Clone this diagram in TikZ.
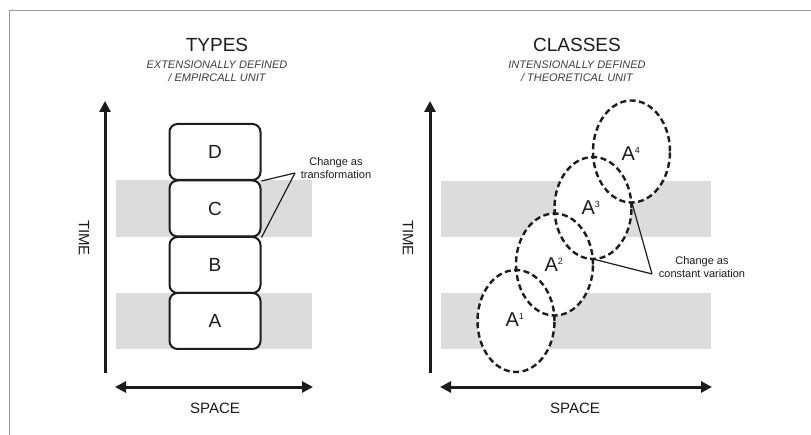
\documentclass[tikz,border=0pt]{standalone}
\usepackage{fontspec}
\setmainfont{Liberation Sans}
\usetikzlibrary{arrows.meta,shapes.geometric}

\definecolor{ink}{HTML}{1C1C1C}
\definecolor{band}{HTML}{DCDCDC}
\definecolor{frame}{HTML}{9A9A9A}

\tikzset{
  title/.style={text=ink, font=\fontsize{19}{21}\selectfont, inner sep=0pt},
  subtitle/.style={text=ink!85, font=\fontsize{11}{13}\itshape, align=center, inner sep=0pt},
  axis/.style={line width=3pt, draw=ink, -{Triangle[length=11pt,width=11pt]}},
  axisboth/.style={line width=3pt, draw=ink, {Triangle[length=11pt,width=11pt]}-{Triangle[length=11pt,width=11pt]}},
  axislabel/.style={text=ink, font=\fontsize{15}{17}\selectfont, inner sep=0pt},
  bandbox/.style={fill=band, draw=none},
  typebox/.style={draw=ink, line width=2pt, fill=white, rounded corners=8pt,
    minimum width=91pt, minimum height=56pt, inner sep=0pt,
    text=ink, font=\fontsize{19}{21}\selectfont},
  classfill/.style={ellipse, fill=white, draw=none, minimum width=77pt, minimum height=102pt, inner sep=0pt},
  classline/.style={ellipse, draw=ink, line width=2.4pt, dash pattern=on 6pt off 3.5pt,
    minimum width=77pt, minimum height=102pt, inner sep=0pt},
  classlabel/.style={text=ink, font=\fontsize{20}{22}\selectfont, inner sep=0pt},
  callout/.style={text=ink, font=\fontsize{11}{13}\selectfont, align=center, inner sep=0pt},
  leader/.style={draw=ink, line width=1.2pt},
}

\newcommand{\cls}[1]{A\textsuperscript{\fontsize{9}{10}\selectfont #1}}

\begin{document}
\begin{tikzpicture}[x=1pt,y=-1pt]
  \useasboundingbox (0,0) rectangle (811,435);
  \fill[white] (0,0) rectangle (811,435);

  % page frame
  \draw[frame, line width=1pt] (9,435) -- (9,11) -- (811,11);

  % ---------- left panel: types ----------
  \node[title] (typesT) at (217,45) {TYPES};
  \node[subtitle] (typesS) at (217,71) {EXTENSIONALLY DEFINED\\/ EMPIRCALL UNIT};

  \fill[band] (116,180) rectangle (312,237);
  \fill[band] (116,293) rectangle (312,349);

  \coordinate (tL0) at (105,373);
  \coordinate (tL1) at (105,101);
  \draw[axis] (tL0) -- (tL1);
  \node[axislabel, rotate=-90] (timeL) at (84,238) {TIME};

  \coordinate (sL0) at (115,387);
  \coordinate (sL1) at (313,387);
  \draw[axisboth] (sL0) -- (sL1);
  \node[axislabel] (spaceL) at (215,408) {SPACE};

  \node[typebox] (boxD) at (215,152) {D};
  \node[typebox] (boxC) at (215,208.5) {C};
  \node[typebox] (boxB) at (215,265) {B};
  \node[typebox] (boxA) at (215,321) {A};

  \node[callout] (trans) at (336,168) {Change as\\transformation};
  \coordinate (transTip) at (295,173);
  \draw[leader] (boxD.south east) -- (transTip);
  \draw[leader] (boxC.south east) -- (transTip);

  % ---------- right panel: classes ----------
  \node[title] (classT) at (577,45) {CLASSES};
  \node[subtitle] (classS) at (577,71) {INTENSIONALLY DEFINED\\/ THEORETICAL UNIT};

  \fill[band] (441,181) rectangle (711,237);
  \fill[band] (441,293) rectangle (711,349);

  \coordinate (tR0) at (430,373);
  \coordinate (tR1) at (430,101);
  \draw[axis] (tR0) -- (tR1);
  \node[axislabel, rotate=-90] (timeR) at (408,238) {TIME};

  \coordinate (sR0) at (440,387);
  \coordinate (sR1) at (712,387);
  \draw[axisboth] (sR0) -- (sR1);
  \node[axislabel] (spaceR) at (575,408) {SPACE};

  % white interiors first, then every dashed outline on top
  \foreach \n/\x/\y in {1/516/321, 2/554.5/264.5, 3/593/208, 4/631.5/151.5}
    \node[classfill] at (\x,\y) {};
  \foreach \n/\x/\y in {1/516/321, 2/554.5/264.5, 3/593/208, 4/631.5/151.5}
    \node[classline] (cls\n) at (\x,\y) {};

  \node[classlabel] (lab1) at (515,320) {\cls{1}};
  \node[classlabel] (lab2) at (554,265) {\cls{2}};
  \node[classlabel] (lab3) at (591,208) {\cls{3}};
  \node[classlabel] (lab4) at (631,154) {\cls{4}};

  % crossing points of neighbouring outlines
  \coordinate (x23) at (593,259);
  \coordinate (x34) at (632,203);

  \node[callout] (vari) at (702,267) {Change as\\constant variation};
  \coordinate (variTip) at (652,274);
  \draw[leader] (x34) -- (variTip);
  \draw[leader] (x23) -- (variTip);
\end{tikzpicture}
\end{document}
